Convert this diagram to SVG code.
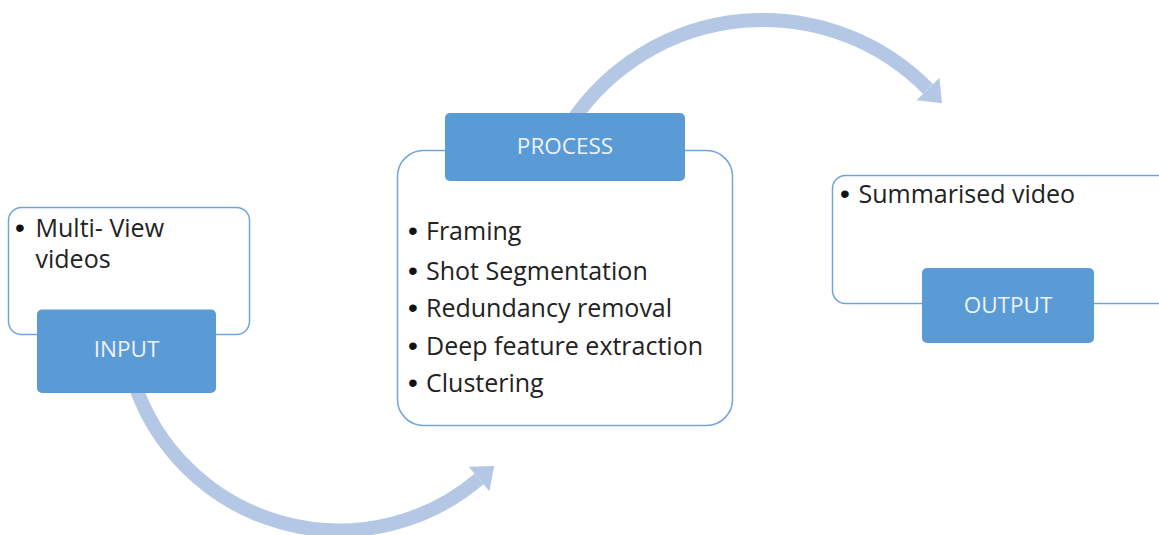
<svg xmlns="http://www.w3.org/2000/svg" width="1159" height="535" viewBox="0 0 1159 535">
  <defs>
    <marker id="head" markerUnits="userSpaceOnUse" markerWidth="24" markerHeight="34" refX="0" refY="16" orient="auto" overflow="visible">
      <polygon points="0,0 20,16 0,32" fill="#b4c8e6"/>
    </marker>
  </defs>
  <style>
    .flow { fill: none; stroke: #b4c8e6; stroke-width: 14; marker-end: url(#head); }
    .panel { fill: #ffffff; stroke: #6ea6db; stroke-width: 1.5; }
    .tab { fill: #5b9bd5; }
    .tab-label { font-family: "Open Sans", "Liberation Sans", sans-serif; font-size: 22.5px; fill: #edf2f9; text-anchor: middle; }
    .item { font-family: "Open Sans", "Liberation Sans", sans-serif; font-size: 25px; fill: #222222; }
    .bullet { font-family: "Liberation Sans", sans-serif; font-size: 28px; fill: #111111; }
  </style>
  <rect width="1159" height="535" fill="#ffffff"/>

  <!-- curved flow arrows, drawn beneath the boxes -->
  <g id="connectors">
    <path class="flow" d="M 135 385 A 216 216 0 0 0 479 479"/>
    <path class="flow" d="M 573 120 A 231 231 0 0 1 928 89"/>
  </g>

  <!-- input stage -->
  <g id="input">
    <rect class="panel" x="8.5" y="207.5" width="241" height="127" rx="13"/>
    <text class="bullet" x="15" y="237">•</text>
    <text class="item" x="35.5" y="237">Multi- View</text>
    <text class="item" x="35.5" y="268">videos</text>
    <rect class="tab" x="37" y="309.5" width="179" height="83.5" rx="5"/>
    <text class="tab-label" x="126.5" y="357">INPUT</text>
  </g>

  <!-- processing stage -->
  <g id="process">
    <rect class="panel" x="397.5" y="150.5" width="335" height="275" rx="26"/>
    <rect class="tab" x="445" y="113" width="240" height="68" rx="5"/>
    <text class="tab-label" x="565" y="154">PROCESS</text>
    <text class="bullet" x="408" y="240">•</text>
    <text class="item" x="426" y="240">Framing</text>
    <text class="bullet" x="408" y="280">•</text>
    <text class="item" x="426" y="280">Shot Segmentation</text>
    <text class="bullet" x="408" y="317">•</text>
    <text class="item" x="426" y="317">Redundancy removal</text>
    <text class="bullet" x="408" y="355">•</text>
    <text class="item" x="426" y="355">Deep feature extraction</text>
    <text class="bullet" x="408" y="392">•</text>
    <text class="item" x="426" y="392">Clustering</text>
  </g>

  <!-- output stage -->
  <g id="output">
    <rect class="panel" x="832.5" y="175.5" width="360" height="128" rx="13"/>
    <text class="bullet" x="840" y="203">•</text>
    <text class="item" x="858.5" y="203">Summarised video</text>
    <rect class="tab" x="922" y="268" width="172" height="75" rx="5"/>
    <text class="tab-label" x="1008" y="312.5">OUTPUT</text>
  </g>
</svg>
